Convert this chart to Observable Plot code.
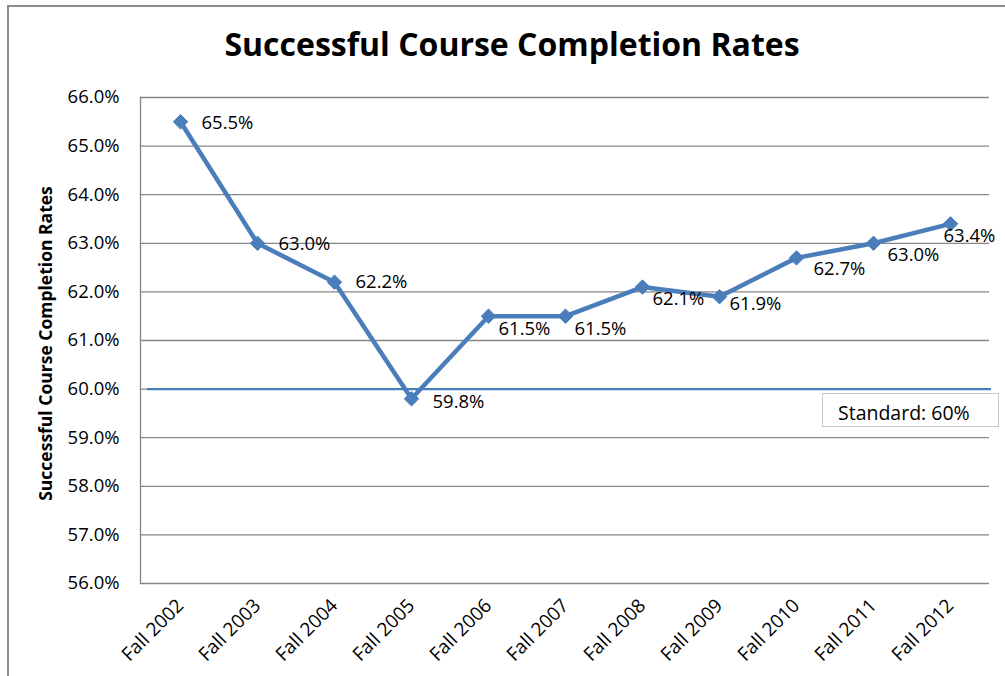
<!DOCTYPE html>
<html>
<head>
<meta charset="utf-8">
<script src="https://cdn.jsdelivr.net/npm/d3@7"></script>
<script src="https://cdn.jsdelivr.net/npm/@observablehq/plot@0.6"></script>
<style>
  html, body { margin: 0; padding: 0; background: #fff; }
  #wrap { position: relative; width: 1005px; height: 676px; overflow: hidden; font-family: "Open Sans", Lato, sans-serif; }
  #border { position: absolute; left: 7px; top: 5px; width: 1100px; height: 800px; border-left: 2px solid #8c8c8c; border-top: 2px solid #8c8c8c; box-sizing: border-box; }
  #chart { position: absolute; left: 0; top: 0; }
  #std { position: absolute; left: 822px; top: 393px; width: 177px; height: 34px; border: 1px solid #c8c8c8; background: #fff; box-sizing: border-box; font-size: 19.5px; color: #000; padding-left: 15px; padding-top: 7px; line-height: 24px; white-space: nowrap; }
</style>
</head>
<body>
<div id="wrap">
  <div id="border"></div>
  <div id="chart"></div>
  <div id="std">Standard: 60%</div>
</div>
<script>
const terms = ["Fall 2002","Fall 2003","Fall 2004","Fall 2005","Fall 2006","Fall 2007","Fall 2008","Fall 2009","Fall 2010","Fall 2011","Fall 2012"];
const rates = [65.5, 63.0, 62.2, 59.8, 61.5, 61.5, 62.1, 61.9, 62.7, 63.0, 63.4];
const yTicks = [56, 57, 58, 59, 60, 61, 62, 63, 64, 65, 66];
const standard = 60;
const titleText = "Successful Course Completion Rates";
const yLabel = "Successful Course Completion Rates";
// label offsets (dx, dy) as placed in the original chart
const labelOffsets = [[21,1],[21,1],[21,0],[21,3],[10,13],[9,13],[10,12],[10,7],[17,11],[14,12],[-7,12]];

const data = terms.map((t, i) => ({term: t, rate: rates[i]}));
const blue = "#4a7ebb";
const fmt = d => d.toFixed(1) + "%";
const font = "'Open Sans', Lato, sans-serif";

const labelMarks = data.map((d, i) => Plot.text([d], {
  x: "term", y: "rate", text: d => fmt(d.rate),
  textAnchor: "start", lineAnchor: "middle",
  dx: labelOffsets[i][0], dy: labelOffsets[i][1],
  fontSize: 18.5, fill: "#000"
}));

const chart = Plot.plot({
  width: 1005,
  height: 676,
  marginTop: 97,
  marginLeft: 140,
  marginRight: 16,
  marginBottom: 93,
  style: {fontFamily: font, fontSize: "18.5px", color: "#000", background: "transparent"},
  x: {type: "point", domain: terms, padding: 0.5},
  y: {domain: [56, 66]},
  marks: [
    Plot.gridY(yTicks, {stroke: "#868686", strokeOpacity: 1, strokeWidth: 1.3}),
    Plot.frame({anchor: "left", stroke: "#868686", strokeWidth: 1.3}),
    Plot.axisY(yTicks, {tickSize: 0, tickPadding: 21, tickFormat: fmt, label: null, fontSize: 18.5}),
    Plot.axisX({tickSize: 0, tickPadding: 19, tickRotate: -45, label: null, fontSize: 19}),
    Plot.ruleY([standard], {stroke: blue, strokeWidth: 2.2, insetLeft: 7, insetRight: -2}),
    Plot.line(data, {x: "term", y: "rate", stroke: blue, strokeWidth: 4.5}),
    Plot.dot(data, {x: "term", y: "rate", symbol: "diamond2", r: 6.5, fill: blue, stroke: blue, strokeWidth: 1}),
    ...labelMarks,
    Plot.text([titleText], {frameAnchor: "top", dx: -53, dy: -52, fontSize: 32, fontWeight: "bold", textAnchor: "middle", lineAnchor: "middle", fill: "#000"}),
    Plot.text([yLabel], {frameAnchor: "left", dx: -94, dy: 3, rotate: -90, fontSize: 17.5, fontWeight: "bold", textAnchor: "middle", lineAnchor: "middle", fill: "#000"})
  ]
});
document.getElementById("chart").appendChild(chart);
</script>
</body>
</html>
